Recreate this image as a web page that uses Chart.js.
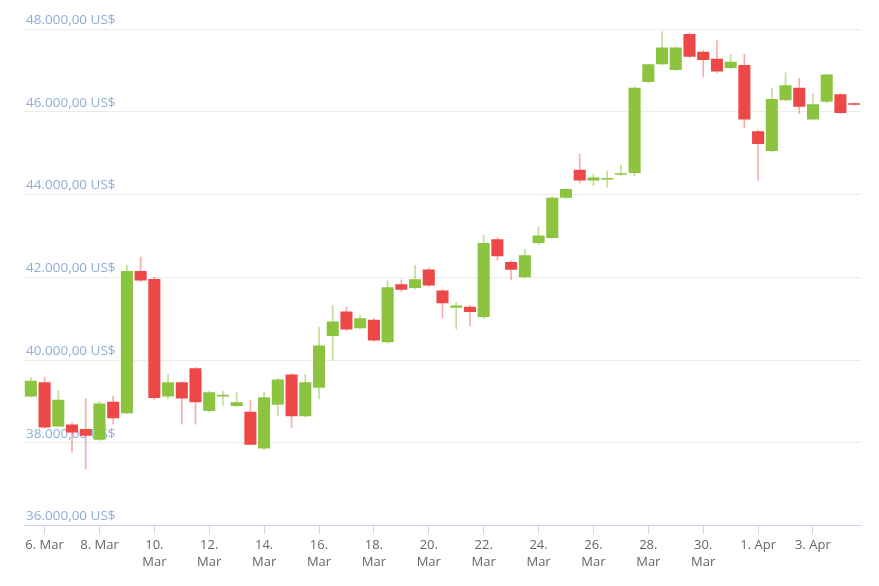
<!DOCTYPE html>
<html><head><meta charset="utf-8">
<script src="https://cdn.jsdelivr.net/npm/chart.js@4"></script>
<style>html,body{margin:0;padding:0;background:#fff}#wrap{width:879px;height:586px;position:relative}</style>
</head><body><div id="wrap"><canvas id="c"></canvas></div>
<script>
const categories = [
  "05 Mar 12:00",
  "06 Mar 00:00","06 Mar 12:00","07 Mar 00:00","07 Mar 12:00","08 Mar 00:00","08 Mar 12:00",
  "09 Mar 00:00","09 Mar 12:00","10 Mar 00:00","10 Mar 12:00","11 Mar 00:00","11 Mar 12:00",
  "12 Mar 00:00","12 Mar 12:00","13 Mar 00:00","13 Mar 12:00","14 Mar 00:00","14 Mar 12:00",
  "15 Mar 00:00","15 Mar 12:00","16 Mar 00:00","16 Mar 12:00","17 Mar 00:00","17 Mar 12:00",
  "18 Mar 00:00","18 Mar 12:00","19 Mar 00:00","19 Mar 12:00","20 Mar 00:00","20 Mar 12:00",
  "21 Mar 00:00","21 Mar 12:00","22 Mar 00:00","22 Mar 12:00","23 Mar 00:00","23 Mar 12:00",
  "24 Mar 00:00","24 Mar 12:00","25 Mar 00:00","25 Mar 12:00","26 Mar 00:00","26 Mar 12:00",
  "27 Mar 00:00","27 Mar 12:00","28 Mar 00:00","28 Mar 12:00","29 Mar 00:00","29 Mar 12:00",
  "30 Mar 00:00","30 Mar 12:00","31 Mar 00:00","31 Mar 12:00","01 Apr 00:00","01 Apr 12:00",
  "02 Apr 00:00","02 Apr 12:00","03 Apr 00:00","03 Apr 12:00","04 Apr 00:00","04 Apr 12:00"
];
const opens = [
  39120, 39460, 38390, 38440, 38330, 38070, 38990, 38710, 42150, 41960,
  39120, 39460, 39800, 38770, 39120, 38890, 38750, 37860, 38920, 39650,
  38640, 39330, 40580, 41170, 40770, 40970, 40430, 41830, 41740, 42190,
  41680, 41260, 41290, 41040, 42920, 42370, 42000, 42830, 42950, 43920,
  44600, 44340, 44360, 44480, 44520, 46720, 47150, 47010, 47880, 47450,
  47280, 47060, 47130, 45530, 45050, 46280, 46580, 45810, 46240, 46420,
  46200
];
const highs = [
  39580, 39580, 39260, 38480, 39070, 39000, 39120, 42290, 42490, 42000,
  39650, 39480, 39820, 39250, 39250, 39210, 39020, 39220, 39560, 39680,
  39650, 40790, 41320, 41280, 41080, 41000, 41920, 41940, 42290, 42220,
  41700, 41400, 41320, 43010, 42960, 42390, 42670, 43210, 43950, 44150,
  44970, 44500, 44570, 44710, 46600, 47160, 47940, 47560, 47900, 47480,
  47720, 47390, 47390, 45560, 46560, 46940, 46810, 46440, 46910, 46440,
  46210
];
const lows = [
  39100, 38350, 38380, 37770, 37370, 38050, 38450, 38700, 41900, 39050,
  39070, 38450, 38450, 38740, 38900, 38870, 37950, 37840, 38650, 38370,
  38620, 39060, 39990, 40700, 40750, 40450, 40400, 41650, 41720, 41780,
  41020, 40750, 40830, 41000, 42410, 41940, 41980, 42800, 42930, 43900,
  44280, 44220, 44180, 44460, 44450, 46700, 47140, 47000, 47300, 46840,
  46940, 47040, 45610, 44340, 45030, 46260, 45960, 45800, 46220, 45960,
  46160
];
const closes = [
  39500, 38370, 39040, 38250, 38170, 38950, 38590, 42150, 41920, 39080,
  39460, 39070, 38980, 39220, 39160, 38980, 37950, 39100, 39530, 38640,
  39460, 40350, 40930, 40740, 41010, 40470, 41760, 41700, 41950, 41800,
  41370, 41320, 41160, 42830, 42510, 42180, 42530, 43010, 43920, 44130,
  44340, 44410, 44390, 44510, 46580, 47150, 47550, 47550, 47330, 47250,
  46970, 47210, 45810, 45220, 46310, 46640, 46120, 46180, 46900, 45970,
  46170
];
const yTicks = [36000, 38000, 40000, 42000, 44000, 46000, 48000];
const xTickCategories = [
  "06 Mar 00:00","08 Mar 00:00","10 Mar 00:00","12 Mar 00:00","14 Mar 00:00",
  "16 Mar 00:00","18 Mar 00:00","20 Mar 00:00","22 Mar 00:00","24 Mar 00:00",
  "26 Mar 00:00","28 Mar 00:00","30 Mar 00:00","01 Apr 00:00","03 Apr 00:00"
];
const xTickLabels = [
  "6. Mar","8. Mar",["10.","Mar"],["12.","Mar"],["14.","Mar"],
  ["16.","Mar"],["18.","Mar"],["20.","Mar"],["22.","Mar"],["24.","Mar"],
  ["26.","Mar"],["28.","Mar"],["30.","Mar"],"1. Apr","3. Apr"
];

const GREEN = '#8cc43f', RED = '#ec4848';
const GREEN_WICK = 'rgba(140,196,63,0.55)', RED_WICK = 'rgba(236,72,72,0.45)';
const up = closes.map((c, i) => c >= opens[i]);
function fmt(v) {
  const s = Math.round(v).toString().replace(/\B(?=(\d{3})+(?!\d))/g, '.');
  return s + ',00 US$';
}

new Chart(document.getElementById('c'), {
  type: 'bar',
  data: {
    labels: categories,
    datasets: [
      {
        label: 'body',
        data: opens.map((o, i) => [o, closes[i]]),
        backgroundColor: up.map(u => u ? GREEN : RED),
        borderWidth: 0,
        barPercentage: 0.88,
        categoryPercentage: 1,
        grouped: false,
        minBarLength: 1.5
      },
      {
        label: 'wick',
        data: lows.map((l, i) => [l, highs[i]]),
        backgroundColor: up.map(u => u ? GREEN_WICK : RED_WICK),
        borderWidth: 0,
        barThickness: 1,
        grouped: false
      }
    ]
  },
  options: {
    responsive: true,
    maintainAspectRatio: false,
    animation: false,
    layout: { padding: { left: 20, right: 18, top: 29, bottom: 12 } },
    plugins: { legend: { display: false }, tooltip: { enabled: false } },
    scales: {
      x: {
        offset: true,
        grid: {
          offset: false,
          drawOnChartArea: false,
          drawTicks: true,
          tickLength: 8,
          color: ctx => (xTickCategories.indexOf(categories[ctx.index]) >= 0 ? '#ccd6eb' : 'rgba(0,0,0,0)')
        },
        border: { display: true, color: '#ccd6eb' },
        ticks: {
          autoSkip: false,
          maxRotation: 0,
          minRotation: 0,
          padding: 4,
          color: '#666666',
          font: { family: 'Open Sans', size: 13, lineHeight: 1.25 },
          callback: (v, i) => {
            const k = xTickCategories.indexOf(categories[i]);
            return k >= 0 ? xTickLabels[k] : '';
          }
        }
      },
      y: {
        min: 36000,
        max: 48000,
        afterBuildTicks: axis => { axis.ticks = yTicks.map(v => ({ value: v })); },
        grid: { color: '#ececec', drawTicks: false },
        border: { display: false },
        ticks: {
          mirror: true,
          padding: 2,
          labelOffset: -9,
          color: '#8fadd6',
          font: { family: 'Open Sans', size: 13.5 },
          callback: v => fmt(v)
        }
      }
    }
  }
});
</script>
</body></html>
